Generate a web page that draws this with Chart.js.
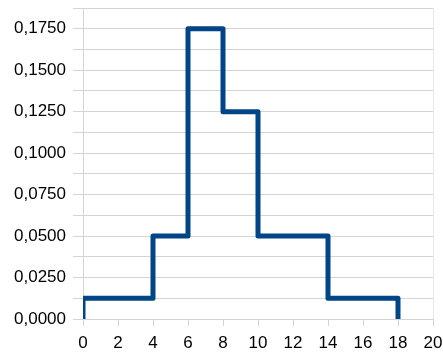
<!DOCTYPE html>
<html>
<head>
<meta charset="utf-8">
<script src="https://cdn.jsdelivr.net/npm/chart.js@4"></script>
<style>
    html, body { margin: 0; padding: 0; background: #fff; }
    #wrap { width: 443px; height: 358px; }
</style>
</head>
<body>
<div id="wrap"><canvas id="stepChart"></canvas></div>
<script>
// Data: step edges (x) and the level that starts at each edge
const xEdges = [0, 0, 4, 6, 8, 10, 14, 18];
const levels = [0, 0.0125, 0.05, 0.175, 0.125, 0.05, 0.0125, 0];

// Axis ranges
const xTicks = [0, 2, 4, 6, 8, 10, 12, 14, 16, 18, 20];
const yMax = 0.1875;

const lineColor = '#004586';
const gridColor = '#d4d4d4';

const createStepChart = () => {
    const ctx = document.getElementById('stepChart').getContext('2d');

    new Chart(ctx, {
        type: 'line',
        data: {
            datasets: [{
                data: xEdges.map((x, i) => ({ x: x, y: levels[i] })),
                stepped: 'before',
                borderColor: lineColor,
                borderWidth: 5,
                borderJoinStyle: 'round',
                pointRadius: 0,
                fill: false
            }]
        },
        options: {
            responsive: true,
            maintainAspectRatio: false,
            animation: false,
            layout: { padding: { top: 8, right: 10, left: 0, bottom: 0 } },
            plugins: {
                legend: { display: false },
                tooltip: { enabled: false }
            },
            scales: {
                x: {
                    type: 'linear',
                    min: xTicks[0],
                    max: xTicks[xTicks.length - 1],
                    afterBuildTicks: (scale) => {
                        scale.ticks = xTicks.map(v => ({ value: v }));
                    },
                    afterFit: (scale) => {
                        scale.height = 39;
                        scale.paddingLeft = 0;
                        scale.paddingRight = 0;
                    },
                    grid: {
                        color: (c) => c.tick && c.tick.value === 20 ? '#e8e8e8' : 'rgba(0,0,0,0)',
                        tickColor: gridColor,
                        tickLength: 7
                    },
                    border: { display: false },
                    ticks: {
                        color: '#000',
                        padding: 7,
                        font: { family: 'Liberation Sans', size: 17 }
                    }
                },
                y: {
                    min: 0,
                    max: yMax,
                    afterFit: (scale) => {
                        scale.width = 83;
                        scale.paddingTop = 0;
                        scale.paddingBottom = 0;
                    },
                    grid: {
                        color: gridColor,
                        tickLength: 10
                    },
                    border: { color: gridColor },
                    ticks: {
                        stepSize: 0.0125,
                        autoSkip: false,
                        color: '#000',
                        padding: 7,
                        font: { family: 'Liberation Sans', size: 17 },
                        callback: (v) => {
                            const n = Math.round(v * 10000);
                            if (n % 250 !== 0 || n > 1750) return '';
                            return (n / 10000).toFixed(4).replace('.', ',');
                        }
                    }
                }
            }
        }
    });
}

createStepChart();
</script>
</body>
</html>
